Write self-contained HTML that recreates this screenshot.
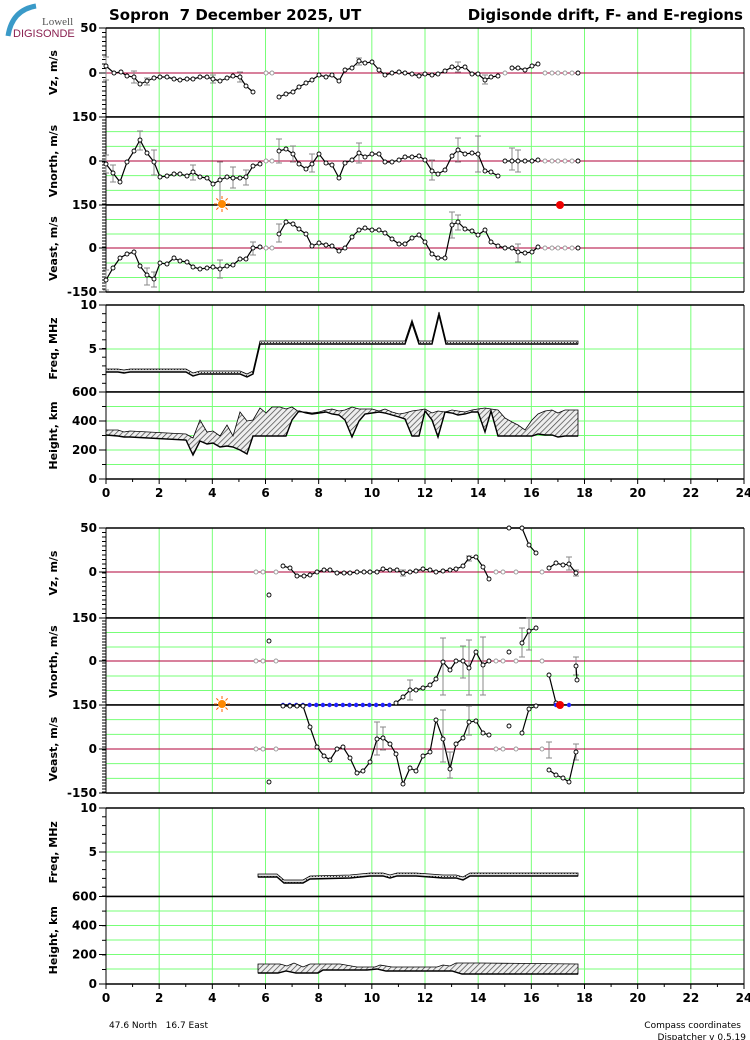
<!DOCTYPE html>
<html><head><meta charset="utf-8"><style>
body{margin:0;background:#fff;}
svg{display:block;font-family:"DejaVu Sans","Liberation Sans",sans-serif;}
text{white-space:pre;}
.t{font-weight:bold;font-size:15px;}
.ax{font-weight:bold;font-size:12px;text-anchor:end;}
.xl{font-weight:bold;font-size:12px;text-anchor:middle;}
.yl{font-weight:bold;font-size:11px;text-anchor:middle;}
</style></head><body>
<svg id="s" width="750" height="1040" viewBox="0 0 750 1040" xmlns="http://www.w3.org/2000/svg" xml:space="preserve">
<defs>
<pattern id="h" width="4" height="4" patternUnits="userSpaceOnUse" patternTransform="rotate(45)"><rect width="4" height="4" fill="#eee"/><line x1="0" y1="0" x2="0" y2="4" stroke="#444" stroke-width="1.4"/></pattern>
<pattern id="d" width="3" height="3" patternUnits="userSpaceOnUse"><rect width="3" height="3" fill="#ddd"/><rect width="1" height="1" fill="#333"/></pattern>
</defs>
<g id="g"></g>
<path d="M8,36 Q12,10 36,6" stroke="#3a9ac8" stroke-width="5" fill="none"/>
<text x="42" y="25" font-size="11" fill="#555" font-family="Liberation Serif,serif">Lowell</text>
<text x="13" y="37" font-size="11" fill="#8a2050" font-family="Liberation Sans,sans-serif">DIGISONDE</text>
<text class="t" x="109" y="20">Sopron  7 December 2025, UT</text>
<text class="t" x="743" y="20" text-anchor="end">Digisonde drift, F- and E-regions</text>
<text x="109" y="1028" font-size="9">47.6 North   16.7 East</text>
<text x="741" y="1028" font-size="9" text-anchor="end">Compass coordinates</text>
<text x="746" y="1040" font-size="9" text-anchor="end">Dispatcher v 0.5.19</text>
</svg>
<script>
var g=document.getElementById('g'),NS='http://www.w3.org/2000/svg';
function el(n,a,t){var e=document.createElementNS(NS,n);for(var k in a)e.setAttribute(k,a[k]);if(t!=null)e.textContent=t;g.appendChild(e);return e;}
var X0=106,X1=744;function hx(h){return X0+h*(X1-X0)/24;}
function panel(y0,y1,hgrid,zero,labels,name,tickStep){
 el('rect',{x:X0,y:y0,width:X1-X0,height:y1-y0,fill:'#fff'});
 hgrid.forEach(function(y){el('line',{x1:X0,x2:X1,y1:y,y2:y,stroke:'#7f7',"stroke-width":1});});
 for(var h=2;h<24;h+=2)el('line',{x1:hx(h),x2:hx(h),y1:y0,y2:y1,stroke:'#7f7'});
 if(zero)el('line',{x1:X0,x2:X1,y1:zero,y2:zero,stroke:'#b0003a'});
 el('line',{x1:X0,x2:X1,y1:y0,y2:y0,stroke:'#000',"stroke-width":1.5});
 el('line',{x1:X0,x2:X1,y1:y1,y2:y1,stroke:'#000',"stroke-width":1.5});
 el('line',{x1:X0,x2:X0,y1:y0,y2:y1,stroke:'#000'});
 el('line',{x1:X1,x2:X1,y1:y0,y2:y1,stroke:'#000'});
 for(var y=y0;y<=y1;y+=tickStep)el('line',{x1:X0-4,x2:X0,y1:y,y2:y,stroke:'#000'});
 labels.forEach(function(l){el('text',{x:97,y:l[1]+4,'class':'ax'},l[0]);el('line',{x1:X0-7,x2:X0,y1:l[1],y2:l[1],stroke:'#000'});});
 var cy=(y0+y1)/2;el('text',{x:0,y:0,'class':'yl',transform:'translate(57,'+cy+') rotate(-90)'},name);
}
function xaxis(y){for(var h=0;h<=24;h++){el('line',{x1:hx(h),x2:hx(h),y1:y,y2:y+(h%2?3:5),stroke:'#000'});if(h%2==0)el('text',{x:hx(h),y:y+18,'class':'xl'},h);}}
function series(pts,greys,errs){
 var segs=[];var cur=[];pts.forEach(function(p){if(p==null){if(cur.length)segs.push(cur);cur=[];}else cur.push(p);});if(cur.length)segs.push(cur);
 (errs||[]).forEach(function(e){el('line',{x1:e[0],x2:e[0],y1:e[1],y2:e[2],stroke:'#888'});el('line',{x1:e[0]-3,x2:e[0]+3,y1:e[1],y2:e[1],stroke:'#888'});el('line',{x1:e[0]-3,x2:e[0]+3,y1:e[2],y2:e[2],stroke:'#888'});});
 segs.forEach(function(s){el('polyline',{points:s.map(function(p){return p.join(',')}).join(' '),fill:'none',stroke:'#000','stroke-width':1.2});s.forEach(function(p){el('circle',{cx:p[0],cy:p[1],r:2,fill:'#fff',stroke:'#000','stroke-width':0.9});});});
 (greys||[]).forEach(function(p){el('circle',{cx:p[0],cy:p[1],r:2,fill:'#fff',stroke:'#999','stroke-width':0.9});});
}
function P(s){return s.trim().split(/\s+/).map(function(t){return t=='|'?null:t.split(',').map(Number);});}
function sun(x,y){el('circle',{cx:x,cy:y,r:4,fill:'#f80'});for(var i=0;i<8;i++){var a=i*Math.PI/4;el('line',{x1:x+5*Math.cos(a),y1:y-5*Math.sin(a),x2:x+8*Math.cos(a),y2:y-8*Math.sin(a),stroke:'#f60'});}}
function dot(x,y){el('circle',{cx:x,cy:y,r:4,fill:'#e00'});}
function grid50(y0,y1){var a=[],s=(y1-y0)/6;for(var i=1;i<6;i++)if(i!=3)a.push(y0+i*s);return a;}
function range(a,b,y){var r=[];for(var x=a;x<=b+0.1;x+=6.65)r.push([Math.round(x),y]);return r;}

// ===== TOP =====
panel(28,117,[],73,[['50',28],['0',73]],'Vz, m/s',4.5);
panel(117,205,grid50(117,205),161,[['150',117],['0',161]],'Vnorth, m/s',3);
panel(205,292,grid50(205,292),248,[['150',205],['0',248],['-150',292]],'Veast, m/s',3);
panel(305,392,[349],null,[['10',305],['5',349]],'Freq, MHz',8.7);
panel(392,479,[406.5,421,435.5,450,464.5],null,[['600',392],['400',421],['200',450],['0',479]],'Height, km',14.5);
xaxis(479);
series(P('106,66 114,73 121,72 127,76 134,77 140,84 147,81 154,78 160,77 167,77 174,79 180,80 187,79 193,79 200,77 207,77 213,79 220,81 227,78 233,76 240,77 246,86 253,92 | 279,97 286,94 293,92 299,87 306,83 312,80 319,75 326,77 332,75 339,81 345,70 352,68 359,61 365,63 372,62 379,70 385,75 392,73 399,72 405,73 412,74 419,76 425,74 432,75 438,74 445,71 452,67 458,68 465,67 472,74 478,74 485,80 491,77 498,76 | 512,68 518,68 525,70 532,66 538,64 | 578,73'),
 [[266,73],[272,73],[505,73]].concat(range(545,572,73)),[[106,57,80],[134,71,83],[147,78,85],[213,75,83],[240,72,82],[359,58,65],[458,62,72],[485,75,84]]);
series(P('106,164 113,173 120,182 127,162 134,151 140,140 147,153 154,162 160,177 167,176 174,174 180,174 187,176 193,172 200,177 207,178 213,184 220,180 227,177 233,178 240,178 246,177 253,166 260,164 | 279,151 286,149 293,154 299,164 306,169 312,164 319,154 326,163 332,165 339,178 345,163 352,160 359,153 365,157 372,154 379,154 385,162 392,162 399,160 405,157 412,157 419,156 425,160 432,171 438,174 445,170 452,156 458,150 465,154 472,153 478,154 485,171 491,172 498,176 | 505,161 512,161 518,161 525,161 532,161 538,160 | 578,161'),
 [[266,161],[272,161]].concat(range(545,572,161)),[[106,155,173],[113,165,182],[140,131,150],[154,150,175],[193,165,180],[220,162,205],[233,167,188],[246,170,185],[279,139,163],[293,146,162],[312,154,172],[359,143,163],[432,160,180],[458,138,162],[478,136,172],[512,148,170],[518,150,172]]);
series(P('106,280 113,268 120,258 127,254 134,252 140,266 147,275 154,279 160,263 167,264 174,258 180,261 187,262 193,267 200,269 207,268 213,267 220,269 227,266 233,265 240,259 246,259 253,248 260,247 | 279,234 286,222 293,224 299,229 306,234 312,246 319,243 326,245 332,246 339,251 345,248 352,237 359,230 365,228 372,230 379,230 385,233 392,239 399,244 405,244 412,238 419,235 425,242 432,254 438,258 445,258 452,225 458,222 465,229 472,231 478,235 485,230 491,242 498,246 505,248 512,248 518,252 525,253 532,252 538,247 | 578,248'),
 [[266,248],[272,248]].concat(range(545,572,248)),[[106,270,290],[147,268,285],[154,272,287],[220,260,278],[253,242,255],[279,224,242],[452,212,238],[458,215,230],[518,244,262]]);
sun(222,204);dot(560,205);
function band(top,bot,fill){el('polygon',{points:top.concat(bot.slice().reverse()).map(function(p){return p.join(',')}).join(' '),fill:fill,stroke:'#000','stroke-width':0.8});el('polyline',{points:bot.map(function(p){return p.join(',')}).join(' '),fill:'none',stroke:'#000','stroke-width':1.4});}
var ft=P('106,369 118,369 124,370 130,369 186,369 193,373 200,371 240,371 247,374 253,371 260,341 405,341 412,320 419,341 432,341 439,312 446,341 578,341');
band(ft,ft.map(function(p){return [p[0],p[1]+3];}),'url(#d)');
band(P('106,430 118,430 124,432 130,431 186,434 193,438 200,420 207,432 213,431 220,436 227,425 233,436 240,412 247,421 253,420 260,408 266,413 272,407 280,407 286,409 292,407 299,412 306,412 312,413 319,412 326,410 332,409 339,411 345,410 352,407 359,409 365,409 372,409 379,411 385,409 392,412 399,414 405,413 412,411 419,410 425,409 432,413 438,411 445,412 452,410 458,411 465,412 472,410 478,409 485,408 491,409 498,410 505,418 512,422 518,425 525,430 532,420 538,414 545,411 552,410 558,413 565,410 572,410 578,410'),
 P('106,435 118,436 124,437 130,437 186,440 193,455 200,441 207,444 213,443 220,447 227,446 233,447 240,450 247,454 253,436 286,436 292,420 299,411 306,413 312,414 319,413 326,412 332,414 339,415 345,420 352,437 359,421 365,414 372,413 379,412 385,413 392,415 399,417 405,419 412,436 419,436 425,411 432,420 438,437 445,412 452,413 458,415 465,414 472,412 478,412 485,432 491,411 498,436 505,436 532,436 538,434 545,435 552,435 558,437 565,436 572,436 578,436'),'url(#h)');

// ===== BOTTOM =====
panel(528,618,[],572,[['50',528],['0',572]],'Vz, m/s',4.5);
panel(618,705,grid50(618,705),661,[['150',618],['0',661]],'Vnorth, m/s',3);
panel(705,793,grid50(705,793),749,[['150',705],['0',749],['-150',793]],'Veast, m/s',3);
panel(808,896.5,[852],null,[['10',808],['5',852]],'Freq, MHz',8.8);
panel(896.5,984,[911,925.5,940,954.5,969],null,[['600',896.5],['400',925.5],['200',954.5],['0',984]],'Height, km',14.6);
xaxis(984);
series(P('269,595 | 283,566 290,568 297,576 304,576 310,575 317,572 324,570 330,570 337,573 344,573 350,573 357,572 364,572 370,572 377,572 383,569 390,570 397,570 403,573 410,572 416,571 423,569 430,570 436,572 443,571 450,570 456,569 463,566 469,558 476,557 483,567 489,579 | 509,528 522,528 529,545 536,553 | 549,568 556,563 563,565 569,564 576,573'),
 [[256,572],[263,572],[276,572],[496,572],[503,572],[516,572],[542,572]],[[403,570,576],[469,556,561],[569,557,570],[576,570,576]]);
series(P('269,641 | 396,703 403,697 410,690 416,690 423,688 430,685 436,679 443,662 450,670 456,661 463,661 469,668 476,652 483,665 489,661 | 509,652 | 522,643 529,631 536,628 | 549,675 556,703 | 576,666 577,680'),
 [[256,661],[263,661],[276,661],[496,661],[503,661],[516,661],[542,661]],[[410,680,700],[443,638,695],[463,646,678],[469,640,695],[483,637,695],[522,628,657],[529,618,650],[576,657,675]]);
for(var x=283;x<=390;x+=6.65){el('circle',{cx:x,cy:705,r:2.2,fill:'#22f'});}
el('circle',{cx:556,cy:705,r:2.2,fill:'#22f'});el('circle',{cx:569,cy:705,r:2.2,fill:'#22f'});
series(P('269,782 | 283,706 290,706 297,706 303,706 310,727 317,747 324,756 330,760 337,749 343,747 350,758 357,773 363,771 370,762 377,739 383,738 390,744 396,754 403,784 410,768 416,771 423,756 430,752 436,720 443,739 450,769 456,744 463,738 469,722 476,721 483,733 489,735 | 509,726 | 522,733 529,709 536,706 | 549,770 556,775 563,778 569,782 576,752'),
 [[256,749],[263,749],[276,749],[496,749],[503,749],[516,749],[542,749]],[[377,722,755],[383,727,750],[443,710,762],[450,752,778],[469,706,735],[549,742,758],[576,744,760]]);
sun(222,704);dot(560,705);
var fb=P('258,877 277,877 284,883 303,883 310,879 350,878 370,876 383,876 390,878 397,876 416,876 430,877 443,878 456,878 463,880 470,876 578,876');
band(fb.map(function(p){return [p[0],p[1]-3];}),fb,'url(#d)');
band(P('258,964 280,964 287,966 294,963 303,967 310,964 340,964 357,967 375,967 380,965 392,967 410,967 437,967 443,965 450,966 456,963 480,963 578,964'),
 P('258,973 278,973 286,971 296,973 318,973 323,970 367,970 377,969 386,971 430,971 452,971 462,974 578,974'),'url(#h)');
</script>
</body></html>
